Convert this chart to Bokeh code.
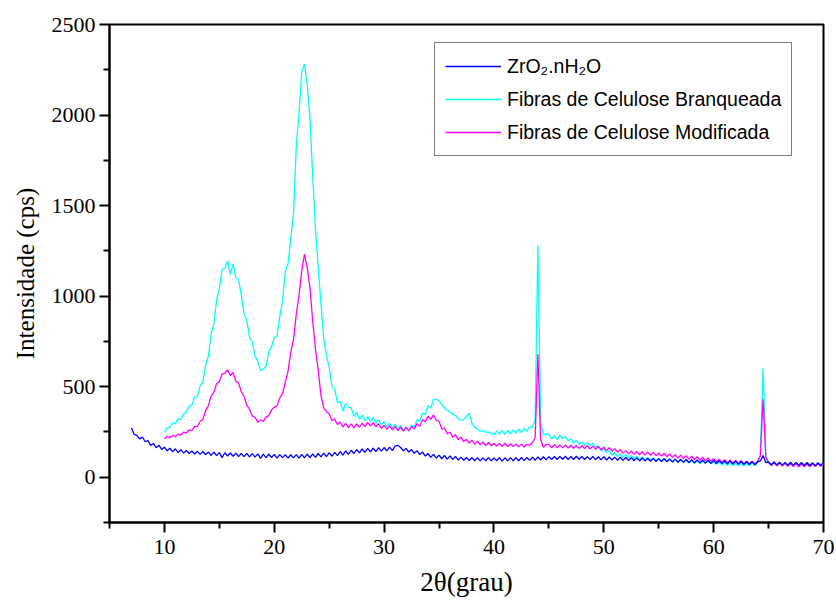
import numpy as np
from bokeh.plotting import figure
from bokeh.models import Range1d, FixedTicker, Legend, LegendItem
from bokeh.embed import file_html
from bokeh.resources import INLINE

# ---- data ----
step = 0.25
fib_start = 10.0
zr_start = 7.0

branqueada = [
    248, 272, 276, 301, 296, 322, 318, 352, 358, 394, 398, 442, 448, 503, 528, 618, 668, 792, 846, 978,
    1042, 1148, 1152, 1196, 1118, 1178, 1104, 1092, 1006, 902, 866, 772, 748, 668, 641, 586, 598, 612, 694, 718,
    772, 778, 888, 972, 1132, 1178, 1318, 1452, 1822, 2010, 2238, 2282, 2168, 1982, 1662, 1372, 1158, 958, 766, 672,
    608, 502, 488, 412, 418, 365, 408, 386, 384, 336, 357, 322, 342, 312, 335, 306, 330, 298, 317, 290,
    307, 278, 298, 273, 292, 264, 285, 258, 279, 256, 287, 278, 318, 310, 354, 346, 395, 382, 430, 430,
    422, 400, 384, 370, 360, 348, 341, 322, 317, 318, 338, 352, 298, 275, 268, 254, 258, 248, 251, 241,
    236, 256, 238, 258, 237, 259, 240, 262, 243, 266, 247, 269, 253, 280, 276, 318, 1280, 305, 232, 240,
    236, 212, 230, 208, 234, 212, 225, 200, 214, 191, 204, 181, 195, 175, 191, 173, 188, 166, 173, 147,
    157, 135, 146, 122, 135, 114, 129, 109, 125, 107, 120, 102, 116, 98, 112, 94, 109, 92, 107, 90,
    104, 89, 103, 87, 101, 85, 99, 83, 97, 82, 95, 79, 94, 77, 91, 76, 90, 75, 89, 74,
    86, 72, 84, 68, 81, 66, 79, 64, 77, 63, 76, 62, 77, 63, 79, 65, 80, 120, 605, 110,
    80, 66, 79, 65, 78, 64, 77, 63, 76, 62, 75, 61, 74, 60, 73, 61, 75, 62, 76, 63, 77,
]

modificada = [
    212, 226, 218, 231, 224, 238, 233, 249, 244, 262, 258, 281, 279, 308, 319, 368, 394, 448, 469, 518,
    528, 571, 574, 592, 562, 578, 531, 522, 472, 446, 398, 376, 338, 331, 304, 316, 309, 332, 340, 372,
    386, 394, 438, 462, 522, 584, 688, 762, 898, 1004, 1138, 1232, 1158, 1046, 862, 708, 592, 452, 384, 362,
    350, 313, 322, 291, 305, 278, 297, 274, 295, 273, 294, 276, 299, 280, 303, 283, 302, 279, 295, 270,
    287, 265, 284, 262, 280, 258, 276, 255, 275, 256, 280, 267, 296, 282, 317, 307, 337, 320, 344, 314,
    310, 265, 272, 240, 249, 221, 234, 208, 221, 197, 209, 189, 204, 183, 199, 179, 195, 175, 192, 174,
    188, 172, 187, 171, 186, 170, 185, 169, 184, 168, 183, 167, 182, 176, 192, 218, 680, 208, 166, 181,
    181, 163, 180, 162, 179, 162, 178, 161, 177, 160, 176, 159, 175, 158, 174, 156, 172, 154, 170, 152,
    166, 148, 163, 144, 158, 139, 153, 133, 147, 129, 145, 126, 142, 124, 141, 122, 139, 121, 137, 119,
    134, 117, 132, 113, 129, 110, 125, 106, 122, 103, 119, 100, 116, 97, 113, 94, 110, 92, 107, 89,
    103, 86, 100, 82, 97, 79, 95, 77, 93, 75, 91, 73, 89, 72, 88, 73, 90, 118, 430, 112,
    82, 65, 81, 63, 79, 62, 78, 60, 76, 59, 75, 58, 74, 57, 73, 58, 74, 59, 75, 60, 76,
]

zro2 = [
    272, 236, 231, 212, 222, 196, 202, 176, 186, 163, 177, 153, 166, 146, 160, 141, 157, 136, 152, 133,
    148, 131, 145, 128, 143, 126, 142, 124, 140, 121, 139, 119, 136, 108, 135, 117, 134, 116, 133, 114,
    132, 114, 131, 112, 130, 111, 129, 104, 128, 108, 127, 109, 126, 106, 125, 108, 124, 105, 124, 107,
    125, 106, 126, 107, 127, 109, 129, 110, 131, 112, 133, 114, 135, 116, 137, 119, 141, 122, 145, 126,
    149, 131, 153, 134, 156, 137, 159, 140, 161, 142, 163, 144, 164, 145, 166, 147, 172, 176, 164, 146,
    159, 139, 153, 132, 147, 125, 139, 117, 131, 110, 126, 106, 122, 102, 120, 100, 118, 98, 115, 95,
    111, 94, 109, 92, 108, 91, 108, 90, 107, 91, 108, 90, 107, 91, 108, 89, 107, 90, 108, 91,
    108, 91, 109, 92, 109, 93, 111, 94, 112, 95, 113, 96, 114, 97, 115, 98, 115, 99, 116, 98,
    115, 98, 116, 99, 115, 98, 114, 97, 115, 97, 113, 96, 114, 95, 112, 95, 111, 94, 110, 93,
    109, 92, 108, 91, 107, 90, 106, 89, 105, 88, 104, 87, 103, 86, 102, 85, 101, 84, 100, 83,
    99, 82, 98, 81, 97, 80, 96, 79, 95, 78, 94, 77, 93, 76, 92, 75, 91, 74, 90, 73,
    89, 72, 88, 71, 87, 70, 86, 69, 85, 90, 120, 80, 85, 69, 84, 68, 83, 67, 82, 66,
    83, 67, 82, 66, 81, 65, 81, 65, 80, 64, 80, 65, 81,
]

x_major = [10, 20, 30, 40, 50, 60, 70]
x_minor = [5, 15, 25, 35, 45, 55, 65]
y_major = [0, 500, 1000, 1500, 2000, 2500]
y_minor = [-250, 250, 750, 1250, 1750, 2250]

labels = ["ZrO\u2082.nH\u2082O", "Fibras de Celulose Branqueada", "Fibras de Celulose Modificada"]
colors = ["#0000FF", "#00FFFF", "#FF00FF"]

SERIF = "Liberation Serif, Times New Roman, serif"
SANS = "Liberation Sans, Arial, sans-serif"

x_fib = fib_start + step * np.arange(len(branqueada))
x_zr = zr_start + step * np.arange(len(zro2))

p = figure(width=834, height=599, output_backend="svg", toolbar_location=None,
           x_range=Range1d(5, 70), y_range=Range1d(-250, 2500),
           min_border_left=109, min_border_right=11, min_border_top=24, min_border_bottom=76)
p.grid.visible = False
p.outline_line_color = "black"
p.outline_line_width = 2

r_b = p.line(x_fib, branqueada, color=colors[1], line_width=1.3)
r_m = p.line(x_fib, modificada, color=colors[2], line_width=1.3)
r_z = p.line(x_zr, zro2, color=colors[0], line_width=1.3)

for ax in (p.xaxis[0], p.yaxis[0]):
    ax.axis_line_width = 2
    ax.major_tick_line_width = 2
    ax.minor_tick_line_width = 2
    ax.major_tick_in = 0
    ax.major_tick_out = 10
    ax.minor_tick_in = 0
    ax.minor_tick_out = 6
    ax.major_label_text_font = SERIF
    ax.major_label_text_font_size = "22px"
    ax.major_label_text_color = "black"
    ax.axis_label_text_font = SERIF
    ax.axis_label_text_font_style = "normal"
    ax.axis_label_text_color = "black"

p.xaxis[0].major_label_standoff = 7
p.yaxis[0].major_label_standoff = 4
p.xaxis[0].axis_label_text_font_size = "27px"
p.yaxis[0].axis_label_text_font_size = "25px"

p.xaxis.ticker = FixedTicker(ticks=x_major, minor_ticks=x_minor)
p.yaxis.ticker = FixedTicker(ticks=y_major, minor_ticks=y_minor)
p.xaxis.axis_label = "2\u03b8(grau)"
p.yaxis.axis_label = "Intensidade (cps)"
p.xaxis.axis_label_standoff = 10
p.yaxis.axis_label_standoff = 10

legend = Legend(items=[LegendItem(label=labels[0], renderers=[r_z]),
                       LegendItem(label=labels[1], renderers=[r_b]),
                       LegendItem(label=labels[2], renderers=[r_m])],
                location=(325, 366))
legend.label_text_font = SANS
legend.label_text_font_size = "19.5px"
legend.label_text_color = "black"
legend.glyph_width = 56
legend.glyph_height = 26
legend.label_height = 26
legend.label_standoff = 6
legend.padding = 10
legend.spacing = 7
legend.margin = 0
legend.border_line_color = "black"
legend.border_line_width = 1
legend.background_fill_color = "white"
legend.background_fill_alpha = 1
p.add_layout(legend, "center")

open("out.html", "w").write(file_html(p, INLINE))
